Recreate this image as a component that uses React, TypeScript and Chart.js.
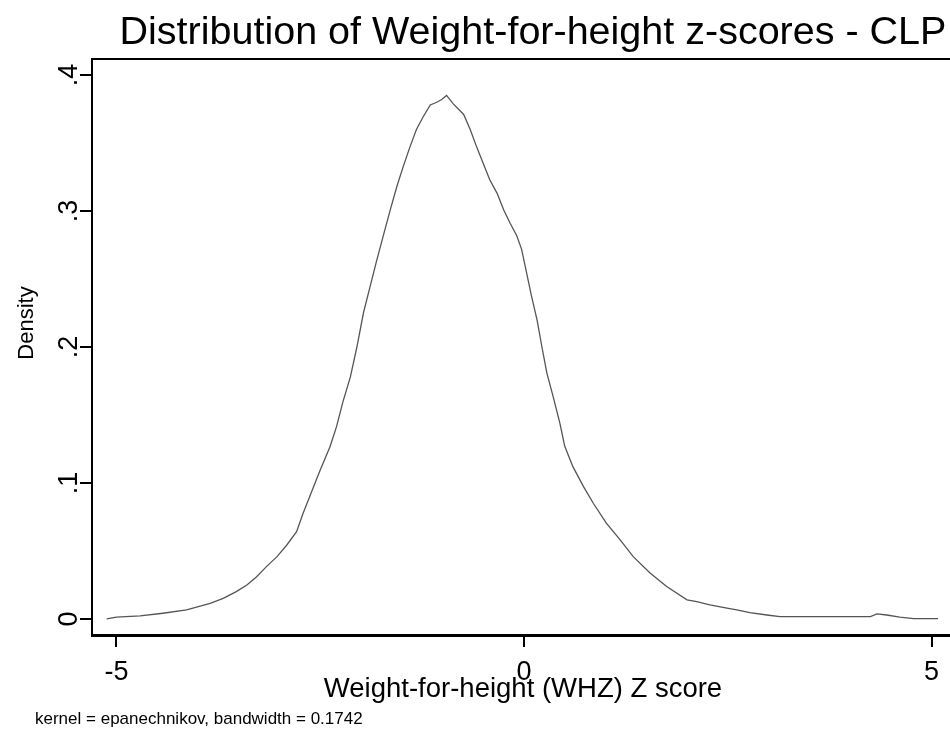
import React, { useEffect, useRef } from "react";
import { Chart, registerables } from "chart.js";

Chart.register(...registerables);

const titleText = "Distribution of Weight-for-height z-scores - CLP";
const xAxisTitle = "Weight-for-height (WHZ) Z score";
const yAxisTitle = "Density";
const footnote = "kernel = epanechnikov, bandwidth = 0.1742";

const xTicks = [-5, 0, 5];
const xTickLabels = ["-5", "0", "5"];
const yTicks = [0, 0.1, 0.2, 0.3, 0.4];
const yTickLabels = ["0", ".1", ".2", ".3", ".4"];

const zScores = [
  -5.12, -5.0, -4.71, -4.43, -4.14, -3.85, -3.69, -3.53, -3.4, -3.28, -3.16, -3.03,
  -2.91, -2.79, -2.71, -2.63, -2.5, -2.38, -2.3, -2.22, -2.13, -2.05, -1.97, -1.89,
  -1.81, -1.73, -1.64, -1.56, -1.48, -1.4, -1.32, -1.24, -1.15, -1.07, -1.01, -0.95,
  -0.87, -0.74, -0.66, -0.58, -0.5, -0.42, -0.33, -0.25, -0.17, -0.09, -0.03, 0.03,
  0.09, 0.16, 0.22, 0.28, 0.36, 0.44, 0.5, 0.6, 0.73, 0.85, 1.01, 1.18, 1.34, 1.55,
  1.75, 2.0, 2.12, 2.28, 2.49, 2.61, 2.77, 2.98, 3.14, 3.8, 4.25, 4.33, 4.45, 4.61,
  4.78, 5.08,
];
const density = [
  0.0, 0.0013, 0.0022, 0.0042, 0.0066, 0.0115, 0.0152, 0.0201, 0.025, 0.0311, 0.0385, 0.0458,
  0.0544, 0.0642, 0.0777, 0.0899, 0.1096, 0.1267, 0.1414, 0.16, 0.178, 0.2, 0.225, 0.244,
  0.263, 0.281, 0.301, 0.318, 0.333, 0.347, 0.36, 0.369, 0.378, 0.38, 0.382, 0.385,
  0.379, 0.371, 0.36, 0.347, 0.335, 0.323, 0.313, 0.301, 0.291, 0.282, 0.272, 0.255,
  0.238, 0.22, 0.2, 0.181, 0.163, 0.144, 0.127, 0.112, 0.0973, 0.0851, 0.0704, 0.0581, 0.0458, 0.0336,
  0.0238, 0.014, 0.0127, 0.0103, 0.0079, 0.0066, 0.0046, 0.0029, 0.0017, 0.0017, 0.0017, 0.0037, 0.0029, 0.0013,
  0.0003, 0.0003,
];

const FONT = "'Liberation Sans', Arial, sans-serif";

export default function App() {
  const ref = useRef<HTMLCanvasElement>(null);

  useEffect(() => {
    const canvas = ref.current;
    if (!canvas) return;

    const textPlugin = {
      id: "stataText",
      afterDraw(chart: any) {
        const ctx = chart.ctx as CanvasRenderingContext2D;
        const { left, right, top, bottom } = chart.chartArea;
        const xs = chart.scales.x;
        const ys = chart.scales.y;
        ctx.save();
        ctx.strokeStyle = "#000";
        ctx.lineWidth = 2;
        ctx.beginPath();
        ctx.moveTo(left, top);
        ctx.lineTo(right, top);
        ctx.lineTo(right, bottom);
        ctx.stroke();

        ctx.fillStyle = "#000";
        ctx.textBaseline = "alphabetic";
        ctx.textAlign = "center";
        ctx.font = `39.5px ${FONT}`;
        ctx.fillText(titleText, 533, 44);

        ctx.font = `27px ${FONT}`;
        xTicks.forEach((v, i) => {
          ctx.fillText(xTickLabels[i], xs.getPixelForValue(v), 680);
        });
        ctx.font = `27.5px ${FONT}`;
        ctx.fillText(xAxisTitle, xs.getPixelForValue(0) - 1, 697);

        ctx.font = `27px ${FONT}`;
        yTicks.forEach((v, i) => {
          ctx.save();
          ctx.translate(77, ys.getPixelForValue(v));
          ctx.rotate(-Math.PI / 2);
          ctx.fillText(yTickLabels[i], 0, 0);
          ctx.restore();
        });

        ctx.save();
        ctx.font = `22px ${FONT}`;
        ctx.translate(33, 323);
        ctx.rotate(-Math.PI / 2);
        ctx.fillText(yAxisTitle, 0, 0);
        ctx.restore();

        ctx.textAlign = "left";
        ctx.font = `17px ${FONT}`;
        ctx.fillText(footnote, 35, 724);
        ctx.restore();
      },
    };

    const chart = new Chart(canvas, {
      type: "line",
      data: {
        datasets: [
          {
            data: zScores.map((x, i) => ({ x, y: density[i] })),
            borderColor: "#555555",
            borderWidth: 1.3,
            pointRadius: 0,
            tension: 0,
            fill: false,
          },
        ],
      },
      options: {
        responsive: false,
        animation: false,
        devicePixelRatio: 1,
        layout: { padding: { top: 59, right: 44, left: 0, bottom: 0 } },
        plugins: {
          legend: { display: false },
          tooltip: { enabled: false },
          title: { display: false },
        },
        scales: {
          x: {
            type: "linear",
            min: -5.3,
            max: 5.3,
            afterBuildTicks: (s: any) => {
              s.ticks = xTicks.map((v) => ({ value: v }));
            },
            afterFit: (s: any) => {
              s.height = 105;
            },
            ticks: { display: false },
            grid: {
              display: true,
              drawOnChartArea: false,
              drawTicks: true,
              tickLength: 12,
              color: "#000",
              lineWidth: 2,
            },
            border: { display: true, color: "#000", width: 3 },
          },
          y: {
            type: "linear",
            min: -0.0118,
            max: 0.4118,
            afterBuildTicks: (s: any) => {
              s.ticks = yTicks.map((v) => ({ value: v }));
            },
            afterFit: (s: any) => {
              s.width = 92;
            },
            ticks: { display: false },
            grid: {
              display: true,
              drawOnChartArea: false,
              drawTicks: true,
              tickLength: 12,
              color: "#000",
              lineWidth: 2,
            },
            border: { display: true, color: "#000", width: 2 },
          },
        },
      },
      plugins: [textPlugin],
    } as any);

    return () => chart.destroy();
  }, []);

  return (
    <div
      style={{
        position: "absolute",
        left: 0,
        top: 0,
        width: 950,
        height: 740,
        overflow: "hidden",
        background: "#fff",
      }}
    >
      <canvas ref={ref} width={1000} height={740} style={{ display: "block", width: 1000, height: 740 }} />
    </div>
  );
}
